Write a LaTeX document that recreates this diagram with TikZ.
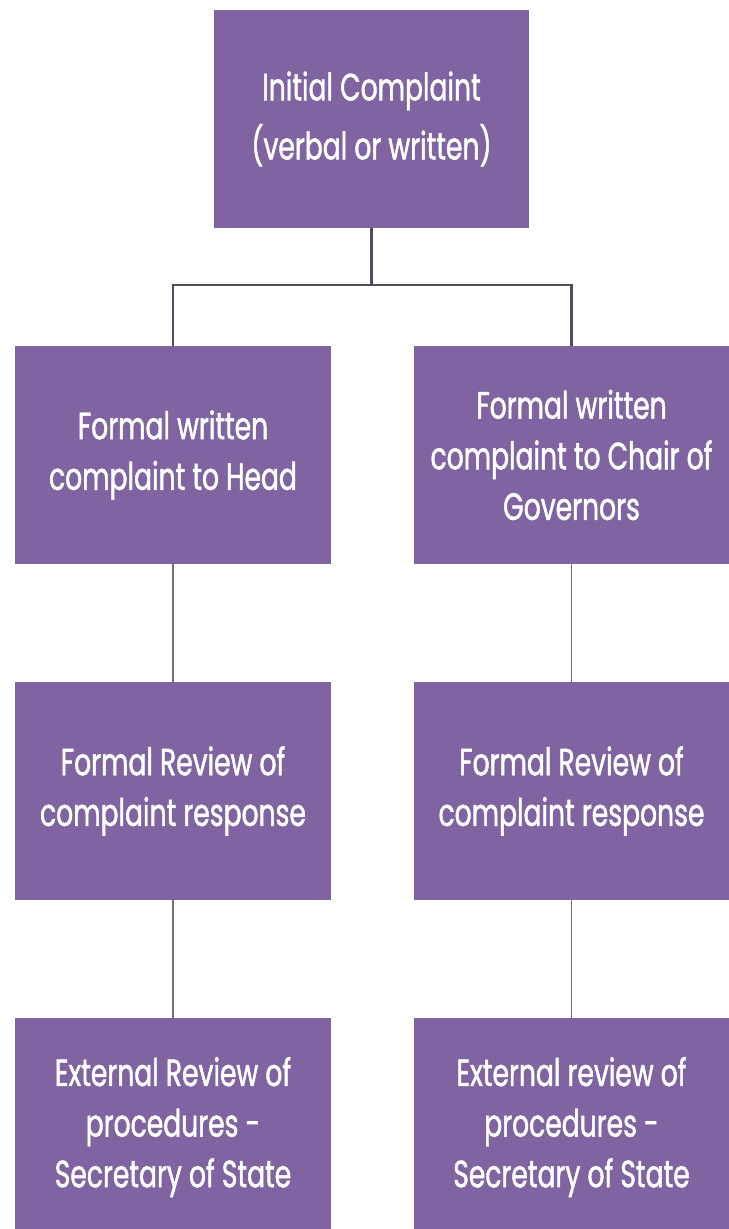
\documentclass[tikz,border=0pt]{standalone}
\usepackage{fontspec}
\setsansfont{Poppins}[FakeStretch=0.7, FakeBold=1.2]
\usepackage{tikz}
\usetikzlibrary{positioning}
\definecolor{BoxPurple}{HTML}{8064A2}
\definecolor{LineDark}{HTML}{4F4E5E}
\definecolor{LineGray}{HTML}{707070}

\begin{document}
\begin{tikzpicture}[x=0.025cm,y=-0.025cm,
    every node/.style={font=\sffamily\fontsize{27}{36}\selectfont},
    stagebox/.style={fill=BoxPurple, text=white, align=center, inner sep=0pt,
                     minimum width=7.875cm, minimum height=5.45cm},
    tree/.style={LineDark, line width=2.1pt},
    link/.style={LineGray, line width=1pt}]
  \useasboundingbox (0,0) rectangle (729,1229);
  \node[stagebox] (init) at (371.5,119)
    {Initial Complaint\\[6pt](verbal or written)};
  \node[stagebox] (head) at (173,455)
    {Formal written\\complaint to Head};
  \node[stagebox] (chair) at (571.5,455)
    {Formal written\\complaint to Chair of\\Governors};
  \node[stagebox] (headrev) at (173,791)
    {Formal Review of\\complaint response};
  \node[stagebox] (chairrev) at (571.5,791)
    {Formal Review of\\complaint response};
  \node[stagebox] (headext) at (173,1127)
    {External Review of\\procedures -\\Secretary of State};
  \node[stagebox] (chairext) at (571.5,1127)
    {External review of\\procedures -\\Secretary of State};
  \coordinate (split) at (371.5,285);
  % fork under the first box
  \draw[tree] (init.south) -- (split) -| (head.north);
  \draw[tree] (split) -| (chair.north);
  \draw[link] (head) -- (headrev); \draw[link] (headrev) -- (headext);
  \draw[link] (chair) -- (chairrev); \draw[link] (chairrev) -- (chairext);
\end{tikzpicture}
\end{document}
